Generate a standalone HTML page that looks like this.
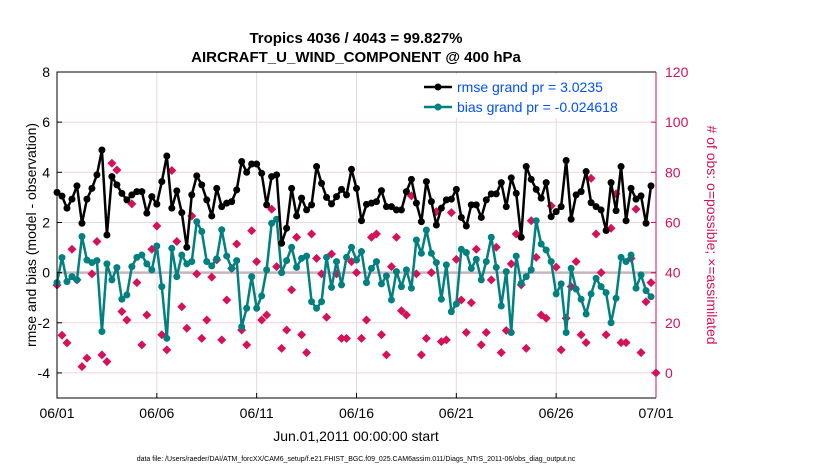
<!DOCTYPE html>
<html><head><meta charset="utf-8"><style>
body{margin:0;background:#fff;}
svg{font-family:"Liberation Sans",sans-serif;display:block;}
</style></head><body>
<svg id="chart" width="830" height="470" viewBox="0 0 830 470" xmlns="http://www.w3.org/2000/svg">
<rect width="830" height="470" fill="#fff"/>
<text x="356" y="43" font-size="15" font-weight="bold" text-anchor="middle">Tropics 4036 / 4043 = 99.827%</text>
<text x="356" y="62" font-size="15" font-weight="bold" text-anchor="middle">AIRCRAFT_U_WIND_COMPONENT @ 400 hPa</text>
<g id="grid"></g>
<g id="marks"></g>
<g id="axes"></g>
<text transform="translate(36,235) rotate(-90)" font-size="14" text-anchor="middle">rmse and bias (model - observation)</text>
<text transform="translate(707,235) rotate(90)" font-size="14" fill="#d6105a" text-anchor="middle"># of obs: o=possible; ×=assimilated</text>
<text x="356" y="441" font-size="14" text-anchor="middle">Jun.01,2011 00:00:00 start</text>
<text x="356" y="461" font-size="7" text-anchor="middle">data file: /Users/raeder/DAI/ATM_forcXX/CAM6_setup/f.e21.FHIST_BGC.f09_025.CAM6assim.011/Diags_NTrS_2011-06/obs_diag_output.nc</text>
<g>
<rect x="420" y="74" width="232" height="44" fill="#fff"/>
<line x1="424" y1="87" x2="452" y2="87" stroke="#000" stroke-width="2.5"/>
<circle cx="438" cy="87" r="3.5" fill="#000"/>
<text x="457" y="92" font-size="14" fill="#0050ff">rmse grand pr = 3.0235</text>
<line x1="424" y1="107" x2="452" y2="107" stroke="#008080" stroke-width="2.5"/>
<circle cx="438" cy="107" r="3.5" fill="#008080"/>
<text x="457" y="112" font-size="14" fill="#0050ff">bias grand pr = -0.024618</text>
</g>
</svg>
<script>
const rmse=[3.2,3.05,2.57,2.93,3.46,1.97,2.93,3.36,3.9,4.89,1.5,3.83,3.5,3.16,2.9,3.1,3.23,3.23,2.37,3.03,2.73,3.63,4.65,2.57,3.26,2.39,1.01,3.1,3.86,3.5,2.9,2.26,3.36,2.63,2.77,2.83,3.3,4.43,4.0,4.33,4.33,3.96,2.7,3.83,3.9,1.17,1.77,3.36,2.26,2.97,2.5,2.7,4.23,3.56,3.0,2.74,3.03,3.32,3.1,4.12,3.36,2.07,2.72,2.77,2.83,3.27,2.63,2.63,2.5,2.5,3.23,3.72,2.77,2.03,3.63,2.83,1.9,2.57,2.9,2.93,3.32,2.2,1.86,2.7,2.7,2.2,2.9,3.14,3.14,3.59,2.63,3.78,3.16,1.41,4.23,3.72,3.32,2.97,3.59,2.23,2.43,2.63,4.47,2.13,3.1,3.23,4.03,2.79,2.63,2.5,1.68,3.59,2.47,4.23,2.07,3.36,2.93,3.06,1.97,3.46];
const bias=[-0.4,0.6,-0.36,-0.16,-0.29,1.44,0.5,0.4,0.48,-2.35,0.35,-0.29,0.2,-1.06,-0.89,0.24,0.61,0.7,0.35,0.11,1.06,-0.56,-2.62,0.97,-0.16,0.7,0.35,0.44,2.03,1.64,0.44,0.27,0.55,1.71,0.66,0.17,0.48,-2.16,-1.42,-0.16,-1.42,-0.93,0.11,1.97,2.13,0.0,0.48,1.01,0.21,0.57,0.66,-1.16,-1.42,-1.16,0.61,-0.59,0.44,-0.49,0.61,1.01,0.5,0.84,-0.4,0.17,0.44,-0.45,-0.13,-1.09,0.04,-0.56,0.11,-0.62,1.3,0.77,1.7,0.77,0.4,-1.06,0.31,-1.56,-1.25,0.93,0.8,0.17,0.53,-0.29,0.44,1.41,0.21,-1.33,0.04,-2.39,0.66,-0.43,-0.16,0.11,2.07,1.14,0.9,0.44,-0.85,-0.45,-2.39,0.17,-0.66,-1.06,-1.65,-0.85,-0.23,-0.56,-0.8,-2.0,-1.02,0.61,0.44,0.7,-0.62,-0.09,-0.72,-0.96];
const obsCount=[35,15,12,49.3,37.1,2.5,5.9,39.5,52.4,7.2,4.5,83.6,80.9,24.5,21.1,67.4,36,11.2,23.1,49.3,58.6,15.2,9.2,80.7,52.4,26.4,17.8,62.6,39.5,13.8,21.1,38.2,45.1,13.2,29.1,41.7,51.4,17.1,11.2,56.7,44.4,21.1,23.1,65.3,42.4,9.8,17.1,33.1,54.1,15.2,8.1,55.4,45.7,39.5,22.2,47.4,39.5,13.8,13.8,44.4,40,13.8,21.1,54.1,55.4,15.2,7.2,42.4,54.1,24.8,23.1,70.6,39.5,7.2,13.8,40,64.3,12.5,13.2,63.9,45.3,29.1,16.1,28,49.3,11.2,16.1,37.1,50.1,8.1,16.9,43.5,55.4,35.1,9.8,60.7,46.1,23.1,21.8,66.6,42.2,9.2,21.8,34.4,44.4,15.2,12.1,77.6,55.4,40,15.2,57.7,71.4,12.1,12.1,45.7,65.3,8.1,28.4,36,0];
const leftTicks=[-4,-2,0,2,4,6,8];
const rightTicks=[0,20,40,60,80,100,120];
const dateTicks=["06/01","06/06","06/11","06/16","06/21","06/26","07/01"];
const dateTickDays=[0,5,10,15,20,25,30];

const X0=57,X1=656,Y0=72,Y1=398;
const xDay=d=>X0+(X1-X0)*d/30;
const yL=v=>Y1-(v+5)/13*(Y1-Y0);
const yR=c=>Y1-(c+10)/130*(Y1-Y0);
const NS="http://www.w3.org/2000/svg";
function mk(tag,attrs,parent){const e=document.createElementNS(NS,tag);for(const k in attrs)e.setAttribute(k,attrs[k]);parent.appendChild(e);return e;}
const grid=document.getElementById('grid'),marks=document.getElementById('marks'),axes=document.getElementById('axes');

dateTickDays.forEach((d,i)=>{
  const g=mk('line',{x1:xDay(d),x2:xDay(d),y1:Y0,y2:Y1,stroke:'#dcdcdc','stroke-width':1},grid);
  
  
  const t=mk('line',{x1:xDay(d),x2:xDay(d),y1:Y1,y2:Y1-5,stroke:'#000'},axes);
  
  
  const lb=mk('text',{x:xDay(d),y:Y1+20,'font-size':14,'text-anchor':'middle'},axes);
  lb.textContent=dateTicks[i];
  
  
});
rightTicks.forEach(c=>{
  const g=mk('line',{x1:X0,x2:X1,y1:yR(c),y2:yR(c),stroke:'#f0d4de','stroke-width':1},grid);
  
  
  const t=mk('line',{x1:X1,x2:X1-5,y1:yR(c),y2:yR(c),stroke:'#d6105a'},axes);
  
  
  const lb=mk('text',{x:X1+9,y:yR(c)+5,'font-size':14,fill:'#d6105a'},axes);
  lb.textContent=c;
  
  
});
leftTicks.forEach(v=>{
  const t=mk('line',{x1:X0,x2:X0+5,y1:yL(v),y2:yL(v),stroke:'#000'},axes);
  
  
  const lb=mk('text',{x:X0-7,y:yL(v)+5,'font-size':14,'text-anchor':'end'},axes);
  lb.textContent=v;
  
  
});
const zl=mk('line',{x1:X0,x2:X1,y1:yL(0),y2:yL(0),stroke:'#c8b4bc','stroke-width':2.5},grid);



obsCount.forEach((c,i)=>{
  const x=xDay(i*0.25),y=yR(c);
  const p=mk('path',{d:`M${x} ${y-4.5}L${x+4.5} ${y}L${x} ${y+4.5}L${x-4.5} ${y}Z`,fill:'#d6105a'},marks);
  
  
});
function series(arr,color,name){
  const pts=arr.map((v,i)=>xDay(i*0.25)+','+yL(v)).join(' ');
  const l=mk('polyline',{points:pts,fill:'none',stroke:color,'stroke-width':2.5,'stroke-linejoin':'round'},marks);
  
  
  arr.forEach((v,i)=>{
    const c=mk('circle',{cx:xDay(i*0.25),cy:yL(v),r:3.5,fill:color},marks);
    
    
  });
}
series(bias,'#008080','bias');
series(rmse,'#000000','rmse');

const fl=mk('polyline',{points:`${X1},${Y0} ${X0},${Y0} ${X0},${Y1} ${X1},${Y1}`,fill:'none',stroke:'#000','stroke-width':1},axes);


const ra=mk('line',{x1:X1,x2:X1,y1:Y0,y2:Y1,stroke:'#d6105a','stroke-width':1},axes);


</script>
</body></html>
